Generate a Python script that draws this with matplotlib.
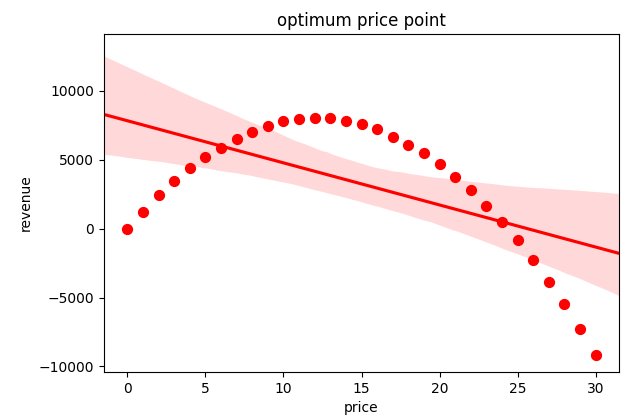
import matplotlib
matplotlib.use("Agg")
import matplotlib.pyplot as plt
import seaborn as sns
import numpy as np

price = list(range(0, 31))
revenue = [0, 1230, 2440, 3450, 4400, 5200, 5850, 6500, 7000, 7450, 7800, 7950,
           8000, 8000, 7800, 7550, 7200, 6650, 6050, 5450, 4700, 3750, 2800, 1650,
           450, -850, -2300, -3900, -5500, -7300, -9200]

fig = plt.figure(figsize=(6.28, 4.19), dpi=100)
ax = fig.add_axes([104/628, 1-372/419, 515/628, 338/419])
ax.set_xlim(-1.5, 31.5)
sns.regplot(x=np.array(price), y=np.array(revenue), color='red', ax=ax,
            scatter_kws={'s': 50, 'alpha': 1}, seed=1, truncate=False)
ax.set_xlim(-1.5, 31.5)
ax.set_ylim(-10400, 14100)
ax.set_xticks([0, 5, 10, 15, 20, 25, 30])
ax.set_yticks([-10000, -5000, 0, 5000, 10000])
ax.set_title("optimum price point")
ax.set_xlabel("price")
ax.set_ylabel("revenue")
fig.savefig("out.png", dpi=100)
